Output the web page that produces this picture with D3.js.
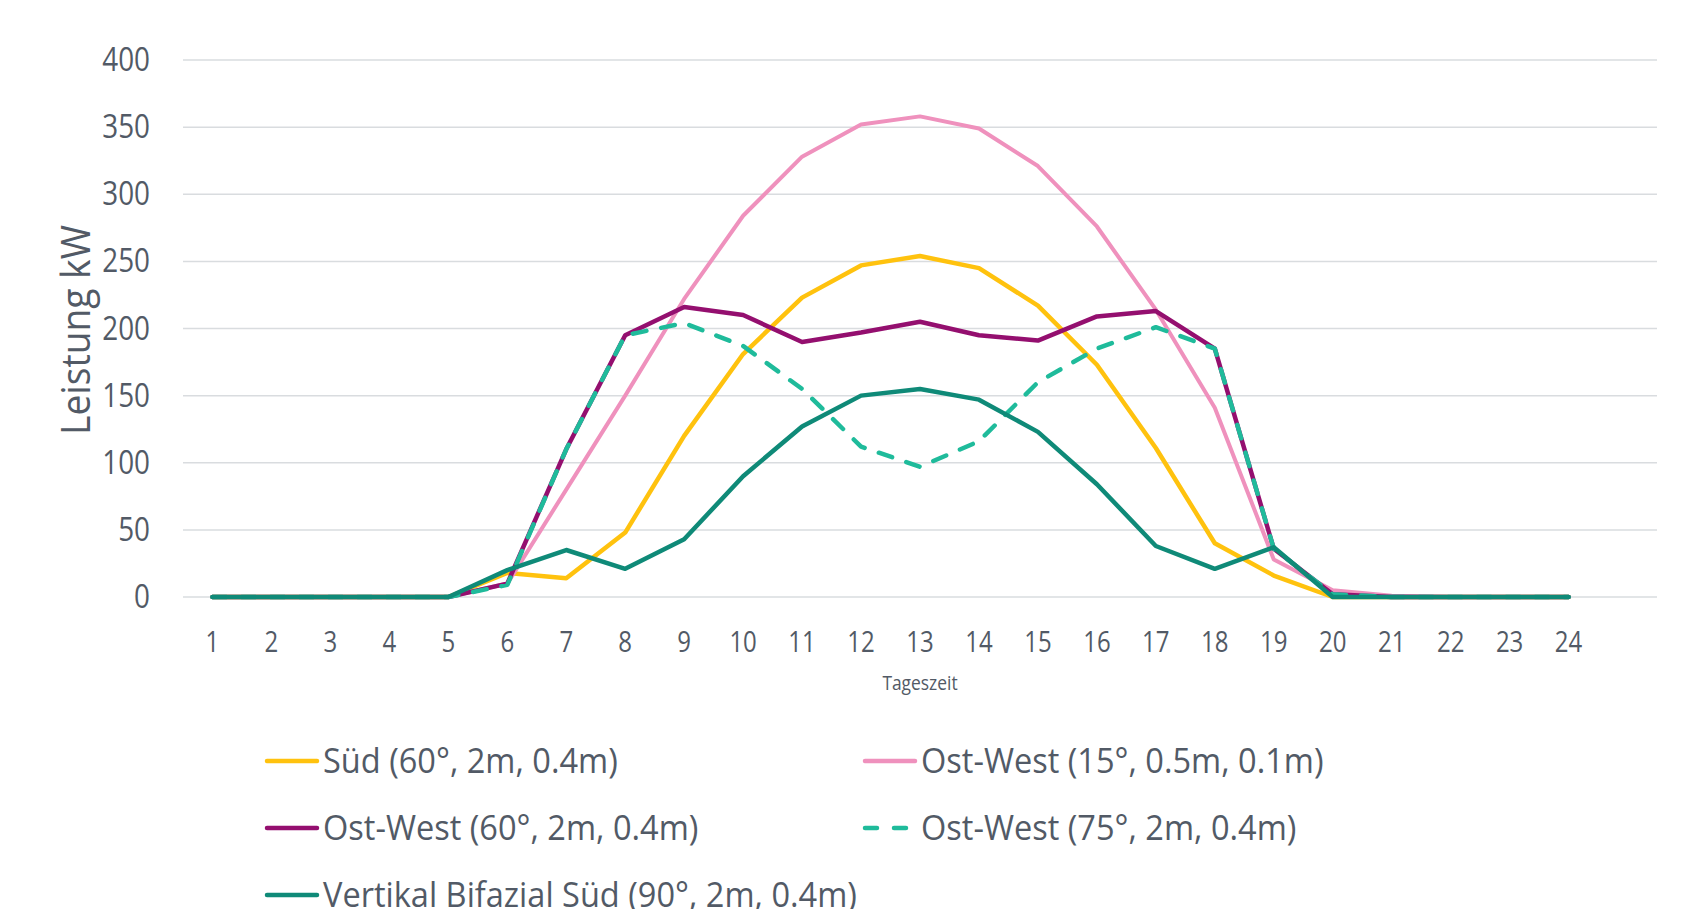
<!DOCTYPE html>
<html>
<head>
<meta charset="utf-8">
<script src="https://cdn.jsdelivr.net/npm/d3@7"></script>
<style>
   html, body { margin: 0; padding: 0; background: #fff; overflow: hidden; }
   svg { display: block; }
   svg text { font-family: "Open Sans", sans-serif; fill: #525a66; }
</style>
</head>
<body>
<svg class="chart" width="1706" height="909"></svg>
<script>
// hours of the day (category axis)
var hours = [1, 2, 3, 4, 5, 6, 7, 8, 9, 10, 11, 12, 13, 14, 15, 16, 17, 18, 19, 20, 21, 22, 23, 24];

// power in kW, one value per hour
var sued60 = [0, 0, 0, 0, 0, 18, 14, 48, 120, 181, 223, 247, 254, 245, 217, 173, 111, 40, 16, 0, 0, 0, 0, 0];
var ostWest15 = [0, 0, 0, 0, 0, 10, 80, 150, 222, 284, 328, 352, 358, 349, 321, 276, 214, 141, 28, 5, 1, 0, 0, 0];
var ostWest60 = [0, 0, 0, 0, 0, 10, 110, 195, 216, 210, 190, 197, 205, 195, 191, 209, 213, 185, 36, 2, 0, 0, 0, 0];
var ostWest75 = [0, 0, 0, 0, 0, 9, 110, 195, 204, 187, 155, 112, 97, 116, 160, 185, 201, 185, 36, 2, 0, 0, 0, 0];
var vertikalBifazial = [0, 0, 0, 0, 0, 20, 35, 21, 43, 90, 127, 150, 155, 147, 123, 84, 38, 21, 37, 0, 0, 0, 0, 0];

var seriesNames = [
   'Süd (60°, 2m, 0.4m)',
   'Ost-West (15°, 0.5m, 0.1m)',
   'Ost-West (60°, 2m, 0.4m)',
   'Ost-West (75°, 2m, 0.4m)',
   'Vertikal Bifazial Süd (90°, 2m, 0.4m)'
];
var seriesValues = [sued60, ostWest15, ostWest60, ostWest75, vertikalBifazial];
var seriesColors = ['#ffc20e', '#ef91bd', '#940f6f', '#1fbb9b', '#0f8a78'];
var seriesDashed = [false, false, false, true, false];

var yTicks = [0, 50, 100, 150, 200, 250, 300, 350, 400];

var svg = d3.select('svg.chart');

var bounds = {left: 183, right: 1657, top: 60, bottom: 597};
var innerWidth = bounds.right - bounds.left;
var innerHeight = bounds.bottom - bounds.top;

var xScale = d3.scaleBand()
   .domain(hours)
   .range([0, innerWidth * hours.length / (hours.length + 1)]);

var yScale = d3.scaleLinear()
   .domain([0, 400])
   .range([innerHeight, 0]);

function xCenter(h) {
   return xScale(h) + xScale.bandwidth() / 2;
}

var plot = svg.append('g')
   .attr('transform', 'translate(' + bounds.left + ',' + bounds.top + ')');

// gridlines
plot.append('g')
   .selectAll('line')
   .data(yTicks)
   .enter().append('line')
   .attr('x1', 0)
   .attr('x2', innerWidth)
   .attr('y1', function (d) { return yScale(d); })
   .attr('y2', function (d) { return yScale(d); })
   .attr('stroke', '#d9dcdf')
   .attr('stroke-width', 1.5);

// y tick labels (font squeezed horizontally, the source font is narrower)
plot.append('g')
   .selectAll('g')
   .data(yTicks)
   .enter().append('g')
   .attr('transform', function (d) { return 'translate(-33,' + (yScale(d) + 11) + ') scale(0.87,1)'; })
   .append('text')
   .attr('text-anchor', 'end')
   .attr('font-size', 32)
   .text(function (d) { return d; });

// x tick labels
plot.append('g')
   .selectAll('g')
   .data(hours)
   .enter().append('g')
   .attr('transform', function (d) { return 'translate(' + xCenter(d) + ',' + (innerHeight + 55) + ') scale(0.8,1)'; })
   .append('text')
   .attr('text-anchor', 'middle')
   .attr('font-size', 30)
   .text(function (d) { return d; });

// lines
var line = d3.line()
   .x(function (d, i) { return xCenter(hours[i]); })
   .y(function (d) { return yScale(d); });

plot.append('g')
   .selectAll('path')
   .data(seriesValues)
   .enter().append('path')
   .attr('d', line)
   .attr('fill', 'none')
   .attr('stroke', function (d, i) { return seriesColors[i]; })
   .attr('stroke-width', function (d, i) { return i === 1 ? 4 : 4.5; })
   .attr('stroke-linejoin', 'round')
   .attr('stroke-linecap', 'round')
   .attr('stroke-dasharray', function (d, i) { return seriesDashed[i] ? '14,15' : null; });

// axis titles
svg.append('g')
   .attr('transform', 'translate(90,330) rotate(-90) scale(0.93,1)')
   .append('text')
   .attr('text-anchor', 'middle')
   .attr('font-size', 40)
   .text('Leistung kW');

svg.append('g')
   .attr('transform', 'translate(920,690) scale(0.87,1)')
   .append('text')
   .attr('text-anchor', 'middle')
   .attr('font-size', 20)
   .text('Tageszeit');

// legend
var legendPos = [[265, 761], [863, 761], [265, 828], [863, 828], [265, 895]];

var legendItem = svg.append('g')
   .attr('class', 'legend')
   .selectAll('g')
   .data(seriesNames)
   .enter().append('g')
   .attr('transform', function (d, i) {
      return 'translate(' + legendPos[i][0] + ',' + legendPos[i][1] + ')';
   });

legendItem.append('line')
   .attr('x1', 2)
   .attr('x2', 52)
   .attr('stroke', function (d, i) { return seriesColors[i]; })
   .attr('stroke-width', 4.5)
   .attr('stroke-linecap', 'round')
   .attr('stroke-dasharray', function (d, i) { return seriesDashed[i] ? '12,17' : null; });

legendItem.append('g')
   .attr('transform', 'translate(58,12) scale(0.93,1)')
   .append('text')
   .attr('font-size', 35)
   .text(function (d) { return d; });
</script>
</body>
</html>
